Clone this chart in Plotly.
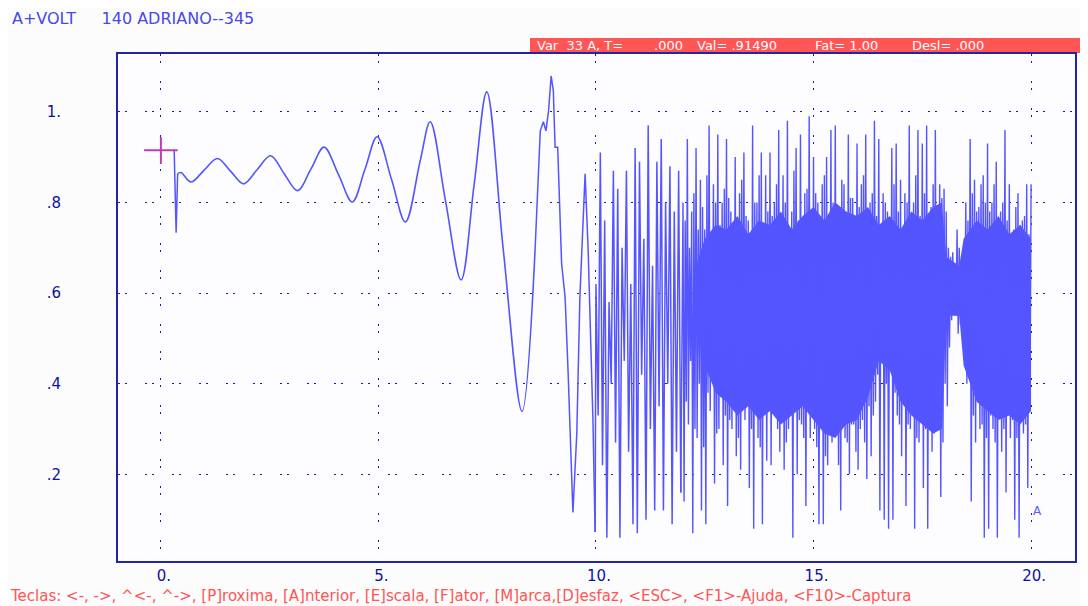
import plotly.graph_objects as go

BLUE = "#5555FF"
GRID = "#1A1AA0"
RED = "#FF5555"
MAGENTA = "#C03CB4"

# ---------------- data ----------------
x_ticks = [0, 5, 10, 15, 20]
x_labels = ["0.", "5.", "10.", "15.", "20."]
y_ticks = [0.2, 0.4, 0.6, 0.8, 1.0]
y_labels = [".2", ".4", ".6", ".8", "1."]

cursor_t = [0.0]
cursor_v = [0.9149]

# initial transient
start_t = [0.305, 0.35, 0.385]
start_v = [0.916, 0.733, 0.863]

# growing oscillation: extremes and crossings
osc_t = [0.385, 0.46, 0.69, 1.00, 1.30, 1.60, 1.90, 2.21, 2.52, 2.83, 3.14, 3.45,
         3.75, 4.08, 4.40, 4.69, 4.97, 5.30, 5.62, 5.96, 6.19, 6.54, 6.90, 7.20,
         7.49, 7.87, 8.30, 8.60]
osc_v = [0.863, 0.866, 0.845, 0.872, 0.897, 0.869, 0.841, 0.872, 0.903, 0.864,
         0.826, 0.874, 0.922, 0.862, 0.801, 0.873, 0.945, 0.851, 0.757, 0.892,
         0.978, 0.804, 0.629, 0.840, 1.044, 0.695, 0.339, 0.695]

# break-up before the dense part
tail_t = [8.60, 8.72, 8.79, 8.85, 8.91, 8.97, 9.02, 9.06, 9.12, 9.21, 9.29, 9.36,
          9.47, 9.56, 9.63, 9.75, 9.82, 9.93, 9.98]
tail_v = [0.695, 0.958, 0.978, 0.958, 1.002, 1.079, 1.046, 0.922, 0.922, 0.665,
          0.591, 0.424, 0.116, 0.292, 0.591, 0.863, 0.695, 0.321, 0.073]

# dense part, spike strokes: upper and lower tip of each cycle (10 cycles per unit)
hi10 = [0.62, 0.91, 0.76, 0.58, 0.87, 0.83, 0.70, 0.87, 0.62, 0.92]
lo10 = [0.33, 0.22, 0.06, 0.40, 0.27, 0.06, 0.45, 0.25, 0.09, 0.07]
hi11 = [0.89, 0.72, 0.97, 0.66, 0.89, 0.94, 0.80, 0.88, 0.78, 0.87]
lo11 = [0.42, 0.10, 0.30, 0.12, 0.35, 0.12, 0.40, 0.09, 0.25, 0.16]
hi12 = [0.80, 0.94, 0.78, 0.92, 0.85, 0.74, 0.97, 0.84, 0.95, 0.80]
lo12 = [0.14, 0.31, 0.07, 0.28, 0.12, 0.09, 0.34, 0.18, 0.30, 0.22]
hi13 = [0.94, 0.78, 0.90, 0.82, 0.91, 0.76, 0.97, 0.80, 0.91, 0.86]
lo13 = [0.13, 0.30, 0.24, 0.21, 0.32, 0.17, 0.08, 0.28, 0.09, 0.23]
hi14 = [0.91, 0.80, 0.96, 0.86, 0.98, 0.78, 0.92, 0.95, 0.82, 0.99]
lo14 = [0.22, 0.33, 0.25, 0.21, 0.30, 0.06, 0.20, 0.31, 0.13, 0.28]
hi15 = [0.90, 0.80, 0.84, 0.90, 0.96, 0.97, 0.79, 0.84, 0.95, 0.81]
lo15 = [0.30, 0.09, 0.09, 0.22, 0.27, 0.34, 0.12, 0.28, 0.20, 0.31]
hi16 = [0.93, 0.84, 0.95, 0.80, 0.98, 0.94, 0.82, 0.78, 0.92, 0.93]
lo16 = [0.21, 0.32, 0.19, 0.24, 0.36, 0.12, 0.10, 0.08, 0.10, 0.33]
hi17 = [0.85, 0.82, 0.97, 0.80, 0.96, 0.93, 0.97, 0.79, 0.96, 0.84]
lo17 = [0.24, 0.13, 0.30, 0.08, 0.27, 0.17, 0.08, 0.25, 0.31, 0.15]
hi18 = [0.83, 0.70, 0.69, 0.74, 0.66, 0.80, 0.94, 0.85, 0.79, 0.86]
lo18 = [0.40, 0.48, 0.56, 0.51, 0.52, 0.40, 0.14, 0.27, 0.30, 0.06]
hi19 = [0.93, 0.80, 0.89, 0.78, 0.96, 0.84, 0.74, 0.82, 0.76, 0.84]
lo19 = [0.08, 0.30, 0.06, 0.25, 0.16, 0.28, 0.10, 0.06, 0.29, 0.17]

# dense part, in-between strokes of the filled body (upper / lower turn)
hm12 = [0.76, 0.70, 0.82, 0.74, 0.79, 0.86, 0.72, 0.80, 0.75, 0.83]
lm12 = [0.36, 0.45, 0.30, 0.40, 0.26, 0.38, 0.44, 0.29, 0.37, 0.33]
hm13 = [0.81, 0.74, 0.70, 0.85, 0.77, 0.72, 0.80, 0.86, 0.74, 0.78]
lm13 = [0.32, 0.40, 0.28, 0.35, 0.42, 0.30, 0.37, 0.26, 0.39, 0.34]
hm14 = [0.77, 0.84, 0.72, 0.80, 0.74, 0.87, 0.76, 0.70, 0.83, 0.78]
lm14 = [0.38, 0.30, 0.41, 0.27, 0.35, 0.40, 0.32, 0.28, 0.37, 0.33]
hm15 = [0.82, 0.76, 0.86, 0.73, 0.80, 0.78, 0.85, 0.75, 0.81, 0.77]
lm15 = [0.26, 0.33, 0.24, 0.36, 0.29, 0.22, 0.35, 0.27, 0.31, 0.25]
hm16 = [0.79, 0.86, 0.74, 0.82, 0.77, 0.72, 0.80, 0.75, 0.84, 0.78]
lm16 = [0.30, 0.27, 0.35, 0.33, 0.42, 0.46, 0.40, 0.44, 0.38, 0.31]
hm17 = [0.74, 0.80, 0.72, 0.86, 0.77, 0.82, 0.75, 0.84, 0.79, 0.81]
lm17 = [0.36, 0.31, 0.38, 0.28, 0.34, 0.30, 0.37, 0.29, 0.33, 0.27]
hm18 = [0.78, 0.68, 0.66, 0.70, 0.67, 0.76, 0.82, 0.78, 0.84, 0.80]
lm18 = [0.35, 0.54, 0.55, 0.53, 0.50, 0.42, 0.33, 0.38, 0.31, 0.28]
hm19 = [0.78, 0.84, 0.74, 0.80, 0.76, 0.72, 0.79, 0.75, 0.77, 0.73]
lm19 = [0.33, 0.27, 0.36, 0.30, 0.35, 0.32, 0.28, 0.37, 0.31, 0.34]

end_t = [20.0]
end_v = [0.84]

# solid core of the dense part (upper / lower edge)
core_t = [12.3, 12.5, 12.75, 13.0, 13.25, 13.5, 13.75, 14.0, 14.25, 14.5, 14.75,
          15.0, 15.25, 15.5, 15.75, 16.0, 16.25, 16.5, 16.75, 17.0, 17.25, 17.5,
          17.75, 17.95, 18.05, 18.35, 18.45, 18.75, 19.0, 19.25, 19.5, 19.75, 20.0]
core_top = [0.66, 0.72, 0.75, 0.74, 0.77, 0.73, 0.76, 0.75, 0.78, 0.74, 0.77,
            0.79, 0.76, 0.80, 0.78, 0.77, 0.79, 0.75, 0.77, 0.74, 0.78, 0.76,
            0.79, 0.80, 0.68, 0.66, 0.72, 0.76, 0.74, 0.77, 0.73, 0.75, 0.72]
core_bot = [0.54, 0.44, 0.38, 0.36, 0.33, 0.35, 0.32, 0.34, 0.31, 0.33, 0.35,
            0.32, 0.29, 0.28, 0.31, 0.32, 0.37, 0.45, 0.43, 0.36, 0.33, 0.31,
            0.29, 0.30, 0.55, 0.55, 0.44, 0.36, 0.34, 0.32, 0.33, 0.31, 0.34]

# ---------------- assemble the dense series ----------------
open_rows = [(hi10, lo10), (hi11, lo11)]
body_rows = [(hi12, lo12, hm12, lm12), (hi13, lo13, hm13, lm13),
             (hi14, lo14, hm14, lm14), (hi15, lo15, hm15, lm15),
             (hi16, lo16, hm16, lm16), (hi17, lo17, hm17, lm17),
             (hi18, lo18, hm18, lm18), (hi19, lo19, hm19, lm19)]

open_t, open_v = [tail_t[-1]], [tail_v[-1]]
for k, (hrow, lrow) in enumerate(open_rows):
    for j in range(len(hrow)):
        t0 = 10 + k + 0.1 * j
        open_t += [t0, t0 + 0.05]
        open_v += [hrow[j], lrow[j]]

dense_t, dense_v = [open_t[-1]], [open_v[-1]]
for k, (hrow, lrow, hmrow, lmrow) in enumerate(body_rows):
    for j in range(len(hrow)):
        t0 = 12 + k + 0.1 * j
        dense_t += [t0, t0 + 0.025, t0 + 0.05, t0 + 0.075]
        dense_v += [hrow[j], lrow[j], hmrow[j], lmrow[j]]
dense_t += end_t
dense_v += end_v

fig = go.Figure()

fig.add_trace(go.Scatter(
    x=core_t + core_t[::-1], y=core_top + core_bot[::-1],
    fill="toself", fillcolor=BLUE, mode="lines", line=dict(width=0),
    hoverinfo="skip"))
fig.add_trace(go.Scatter(x=start_t, y=start_v, mode="lines",
                         line=dict(color=BLUE, width=1.5)))
fig.add_trace(go.Scatter(x=osc_t, y=osc_v, mode="lines",
                         line=dict(color=BLUE, width=1.6, shape="spline", smoothing=1.0)))
fig.add_trace(go.Scatter(x=tail_t, y=tail_v, mode="lines",
                         line=dict(color=BLUE, width=1.5)))
fig.add_trace(go.Scatter(x=open_t, y=open_v, mode="lines",
                         line=dict(color=BLUE, width=1.5)))
fig.add_trace(go.Scatter(x=dense_t, y=dense_v, mode="lines",
                         line=dict(color=BLUE, width=1.4)))

# cursor cross
fig.add_trace(go.Scatter(x=cursor_t, y=cursor_v, mode="markers",
                         marker=dict(symbol="line-ew", size=24,
                                     line=dict(color=MAGENTA, width=2))))
fig.add_trace(go.Scatter(x=cursor_t, y=cursor_v, mode="markers",
                         marker=dict(symbol="line-ns", size=19,
                                     line=dict(color=MAGENTA, width=2))))

FONT = "DejaVu Sans"
TICKC = "#1010A0"
# page has an 8px body margin: figure is drawn 8px in from the top-left corner
fig.update_layout(
    width=1080, height=598,
    margin=dict(l=110, r=13, t=46, b=45),
    paper_bgcolor="#FCFCFC", plot_bgcolor="#FDFDFF",
    showlegend=False,
    font=dict(family=FONT, size=15, color=TICKC),
)
fig.update_xaxes(
    range=[-0.986, 21.01], tickvals=x_ticks, ticktext=x_labels,
    showgrid=True, gridcolor=GRID, gridwidth=1, griddash="2px,5px,2px,18px",
    zeroline=False, showline=True, linecolor="#2424A8", linewidth=2, mirror=True,
    ticks="", ticklabelshift=3,
    tickfont=dict(family=FONT, size=15, color=TICKC),
)
fig.update_yaxes(
    range=[0.0088, 1.1275], tickvals=y_ticks, ticktext=y_labels,
    showgrid=True, gridcolor=GRID, gridwidth=1, griddash="2px,5px,2px,18px",
    zeroline=False, showline=True, linecolor="#2424A8", linewidth=2, mirror=True,
    ticks="", ticklabelstandoff=52,
    tickfont=dict(family=FONT, size=15, color=TICKC),
)

# positions below are given in page pixels and converted to paper coordinates
def px_x(px):
    return (px - 118) / 957.0

def px_y(py):
    return (561 - py) / 507.0

# red status bar
fig.add_shape(type="rect", xref="paper", yref="paper",
              x0=px_x(530), x1=px_x(1095), y0=px_y(53), y1=px_y(38),
              fillcolor=RED, line=dict(width=0), layer="below")

status = [(535, "Var  33 A, T="), (652, ".000"), (695, "Val= .91490"),
          (813, "Fat= 1.00"), (910, "Desl= .000")]
for px, txt in status:
    fig.add_annotation(xref="paper", yref="paper", x=px_x(px), y=px_y(45.5),
                       text=txt, showarrow=False, xanchor="left", yanchor="middle",
                       font=dict(family=FONT, size=13, color="white"))

fig.add_annotation(xref="paper", yref="paper", x=px_x(10), y=px_y(18),
                   text="A+VOLT\u00a0\u00a0\u00a0\u00a0\u00a0140 ADRIANO--345",
                   showarrow=False, xanchor="left", yanchor="middle",
                   font=dict(family=FONT, size=16, color="#4848E8"))

fig.add_annotation(xref="paper", yref="paper", x=px_x(8), y=px_y(596),
                   text="Teclas: &lt;-, -&gt;, ^&lt;-, ^-&gt;, [P]roxima, [A]nterior, [E]scala, [F]ator, [M]arca,[D]esfaz, &lt;ESC&gt;, &lt;F1&gt;-Ajuda, &lt;F10&gt;-Captura",
                   showarrow=False, xanchor="left", yanchor="middle",
                   font=dict(family=FONT, size=15, color=RED))

fig.add_annotation(x=20.14, y=0.119, text="A", showarrow=False,
                   font=dict(family=FONT, size=12, color="#6060F0"))

fig.write_html("out.html")
